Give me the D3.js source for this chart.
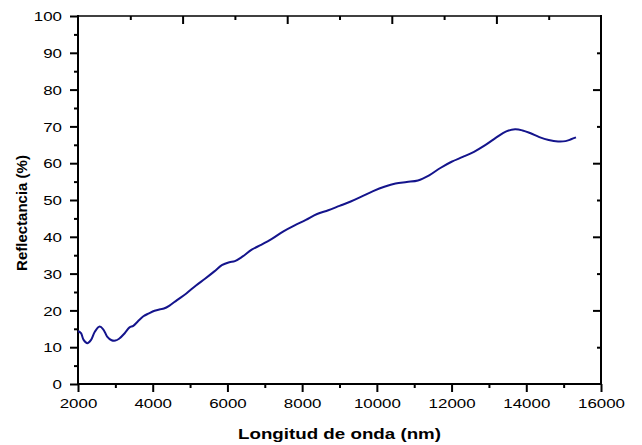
<!DOCTYPE html>
<html>
<head>
<meta charset="utf-8">
<script src="https://cdn.jsdelivr.net/npm/d3@7/dist/d3.min.js"></script>
<style>
  html, body { margin: 0; padding: 0; background: #ffffff; }
  svg { display: block; font-family: "Liberation Sans", Arial, sans-serif; }
</style>
</head>
<body>
<svg id="chart" width="642" height="445"></svg>
<script>
// Reflectance spectrum: wavelength (nm) vs reflectance (%)
const wavelength = [
  2000, 2080, 2150, 2250, 2350, 2450, 2580, 2680, 2780, 2900,
  3000, 3100, 3250, 3380, 3480, 3600, 3750, 3900, 4050, 4200,
  4300, 4450, 4650, 4900, 5150, 5400, 5650, 5850, 6050, 6200,
  6400, 6650, 6900, 7200, 7500, 7800, 8100, 8400, 8700, 9000,
  9300, 9600, 9900, 10200, 10500, 10800, 11100, 11400, 11700, 12000,
  12300, 12600, 12900, 13200, 13450, 13700, 13900, 14100, 14350, 14600,
  14850, 15050, 15200, 15330
];
const reflectance = [
  14.4, 13.8, 12.0, 11.1, 12.0, 14.2, 15.6, 14.8, 12.9, 11.9,
  11.8, 12.3, 13.8, 15.4, 15.8, 17.0, 18.4, 19.2, 19.9, 20.3,
  20.5, 21.3, 22.8, 24.6, 26.7, 28.6, 30.6, 32.3, 33.1, 33.4,
  34.6, 36.5, 37.8, 39.5, 41.5, 43.1, 44.6, 46.2, 47.2, 48.4,
  49.6, 51.0, 52.4, 53.6, 54.5, 54.9, 55.3, 56.7, 58.7, 60.4,
  61.7, 63.1, 64.9, 67.0, 68.6, 69.2, 68.9, 68.2, 67.1, 66.3,
  65.9, 66.0, 66.5, 67.0
];

const xMajorTicks = [2000, 4000, 6000, 8000, 10000, 12000, 14000, 16000];
const xMinorTicks = [3000, 5000, 7000, 9000, 11000, 13000, 15000];
const yMajorTicks = [0, 10, 20, 30, 40, 50, 60, 70, 80, 90, 100];
const yMinorTicks = [5, 15, 25, 35, 45, 55, 65, 75, 85, 95];

const xTitle = "Longitud de onda (nm)";
const yTitle = "Reflectancia (%)";

const svg = d3.select("#chart");
const plotLeft = 78, plotRight = 601, plotTop = 16, plotBottom = 384;
const stretch = 1.3; // wide tick lettering

const x = d3.scaleLinear().domain([2000, 16000]).range([plotLeft, plotRight]);
const y = d3.scaleLinear().domain([0, 100]).range([plotBottom, plotTop]);
// opposite axes carry plain evenly spaced ticks
const xTop = d3.scaleLinear().domain([0, 10]).range([plotLeft, plotRight]);
const yRight = d3.scaleLinear().domain([0, 100]).range([plotBottom, plotTop]);

function styleTicks(g) {
  g.select(".domain").remove();
  g.selectAll(".tick line").attr("stroke", "#000").attr("stroke-width", 2);
}

// bottom axis
svg.append("g").attr("transform", `translate(0,${plotBottom})`)
  .call(d3.axisBottom(x).tickValues(xMinorTicks).tickSize(4).tickFormat(""))
  .call(styleTicks);
const gx = svg.append("g").attr("transform", `translate(0,${plotBottom})`)
  .call(d3.axisBottom(x).tickValues(xMajorTicks).tickSize(8).tickFormat(d3.format("d")))
  .call(styleTicks);
gx.selectAll(".tick text")
  .attr("fill", "#000").attr("font-size", 13).attr("y", 15).attr("dy", "0.71em")
  .attr("transform", `scale(${stretch},1)`);

// left axis
svg.append("g").attr("transform", `translate(${plotLeft},0)`)
  .call(d3.axisLeft(y).tickValues(yMinorTicks).tickSize(4).tickFormat(""))
  .call(styleTicks);
const gy = svg.append("g").attr("transform", `translate(${plotLeft},0)`)
  .call(d3.axisLeft(y).tickValues(yMajorTicks).tickSize(8).tickFormat(d3.format("d")))
  .call(styleTicks);
gy.selectAll(".tick text")
  .attr("fill", "#000").attr("font-size", 13).attr("x", -16 / stretch).attr("dy", "0.36em")
  .attr("transform", `scale(${stretch},1)`);

// top axis (ticks pointing inward)
svg.append("g").attr("transform", `translate(0,${plotTop})`)
  .call(d3.axisBottom(xTop).tickValues([1, 3, 5, 7, 9]).tickSize(4).tickFormat(""))
  .call(styleTicks);
svg.append("g").attr("transform", `translate(0,${plotTop})`)
  .call(d3.axisBottom(xTop).tickValues([2, 4, 6, 8]).tickSize(8).tickFormat(""))
  .call(styleTicks);

// right axis (ticks pointing inward)
svg.append("g").attr("transform", `translate(${plotRight},0)`)
  .call(d3.axisLeft(yRight).tickValues([10, 30, 50, 70, 90]).tickSize(4).tickFormat(""))
  .call(styleTicks);
svg.append("g").attr("transform", `translate(${plotRight},0)`)
  .call(d3.axisLeft(yRight).tickValues([20, 40, 60, 80]).tickSize(8).tickFormat(""))
  .call(styleTicks);

// frame
svg.append("line").attr("x1", plotLeft).attr("x2", plotRight).attr("y1", plotTop).attr("y2", plotTop)
  .attr("stroke", "#000").attr("stroke-width", 1.5);
svg.append("line").attr("x1", plotLeft).attr("x2", plotLeft).attr("y1", plotTop - 1).attr("y2", plotBottom + 1)
  .attr("stroke", "#000").attr("stroke-width", 2);
svg.append("line").attr("x1", plotRight).attr("x2", plotRight).attr("y1", plotTop - 1).attr("y2", plotBottom + 1)
  .attr("stroke", "#000").attr("stroke-width", 2);
svg.append("line").attr("x1", plotLeft - 1).attr("x2", plotRight + 1).attr("y1", plotBottom).attr("y2", plotBottom)
  .attr("stroke", "#000").attr("stroke-width", 2);

// spectrum curve
const points = wavelength.map((w, i) => [w, reflectance[i]]);
svg.append("path")
  .datum(points)
  .attr("fill", "none")
  .attr("stroke", "#14148c")
  .attr("stroke-width", 2)
  .attr("stroke-linejoin", "round")
  .attr("d", d3.line().x(d => x(d[0])).y(d => y(d[1])).curve(d3.curveCatmullRom.alpha(0.5)));

// axis titles
svg.append("text")
  .attr("transform", `translate(${(plotLeft + plotRight) / 2},439) scale(1.25,1)`)
  .attr("text-anchor", "middle").attr("font-size", 15).attr("font-weight", "bold")
  .attr("fill", "#000").text(xTitle);
svg.append("text")
  .attr("transform", `translate(27,213) rotate(-90)`)
  .attr("text-anchor", "middle").attr("font-size", 15).attr("font-weight", "bold")
  .attr("fill", "#000").text(yTitle);
</script>
</body>
</html>
